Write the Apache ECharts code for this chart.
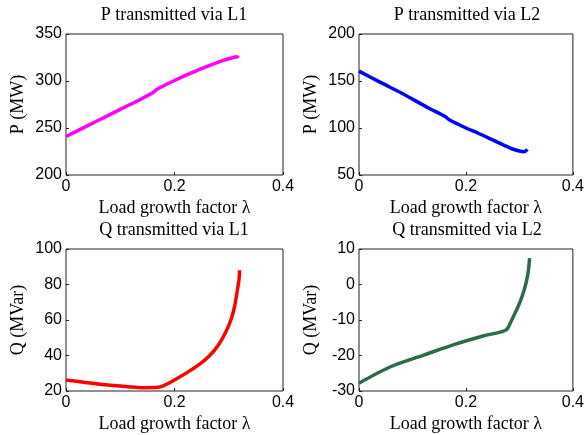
<!DOCTYPE html>
<html>
<head>
<meta charset="utf-8">
<script src="https://cdn.jsdelivr.net/npm/echarts@6/dist/echarts.min.js"></script>
<style>
  html, body { margin: 0; padding: 0; background: #fff; }
  #main { width: 587px; height: 435px; }
</style>
</head>
<body>
<div id="main"></div>
<script>
// values
var lamP1 = [0, 0.04, 0.08, 0.12, 0.136, 0.161, 0.167, 0.2, 0.229, 0.26, 0.29, 0.305, 0.315, 0.318];
var valP1 = [241, 252.5, 264, 275.5, 280, 288, 291, 300.5, 308, 315.5, 322, 324.5, 325.9, 324.5];

var lamP2 = [0, 0.04, 0.08, 0.131, 0.162, 0.168, 0.2, 0.223, 0.255, 0.284, 0.3, 0.309, 0.315];
var valP2 = [160.5, 148.5, 137, 121, 112, 109, 100, 94.4, 86, 78.4, 75.5, 74.8, 77.3];

var lamQ1 = [0, 0.059, 0.1, 0.139, 0.17, 0.2, 0.244, 0.265, 0.281, 0.295, 0.305, 0.311, 0.316, 0.319, 0.32];
var valQ1 = [26.2, 24, 22.8, 21.9, 22.1, 26.2, 34.6, 40, 45.9, 53.5, 61, 68, 77, 83, 88];

var lamQ2 = [0, 0.06, 0.121, 0.176, 0.232, 0.275, 0.284, 0.293, 0.302, 0.309, 0.314, 0.317, 0.319];
var valQ2 = [-27.8, -23.1, -19.9, -17, -14.5, -12.8, -10.5, -7.7, -4.6, -1.5, 1.5, 4.1, 7.4];

var titles = ['P transmitted via L1', 'P transmitted via L2', 'Q transmitted via L1', 'Q transmitted via L2'];
var yNames = ['P (MW)', 'P (MW)', 'Q (MVar)', 'Q (MVar)'];
var yRanges = [[200, 350, 50], [50, 200, 50], [20, 100, 20], [-30, 10, 10]];
var xName = 'Load growth factor \u03bb';
var colors = ['#ff00ff', '#0000ff', '#ff0000', '#2a6b48'];

function pairs(xs, ys) {
    var out = [];
    for (var i = 0; i < xs.length; i++) out.push([xs[i], ys[i]]);
    return out;
}
var allData = [pairs(lamP1, valP1), pairs(lamP2, valP2), pairs(lamQ1, valQ1), pairs(lamQ2, valQ2)];

var lefts = [66, 359, 66, 359];
var tops = [34, 34, 249, 249];
var heights = [141, 141, 142, 142];
var serif = '"Liberation Serif", "Times New Roman", serif';
var sans = '"Liberation Sans", Arial, sans-serif';

var grids = [], xAxes = [], yAxes = [], series = [], titleList = [];
for (var i = 0; i < 4; i++) {
    grids.push({
        left: lefts[i], top: tops[i], width: 217, height: heights[i],
        show: true, borderColor: '#222', borderWidth: 1, backgroundColor: '#fff'
    });
    titleList.push({
        text: titles[i], padding: 0,
        left: lefts[i] + 108, top: tops[i] - 28, textAlign: 'center',
        textStyle: { fontFamily: serif, fontSize: 18, fontWeight: 'normal', color: '#000' }
    });
    xAxes.push({
        gridIndex: i, type: 'value', min: 0, max: 0.4, interval: 0.2,
        name: xName, nameLocation: 'middle', nameGap: 24,
        nameTextStyle: { fontFamily: serif, fontSize: 18, color: '#000' },
        axisLine: { show: false, onZero: false },
        axisTick: { show: true, inside: true, length: 3, lineStyle: { color: '#222' } },
        axisLabel: { fontFamily: sans, fontSize: 16, color: '#000', margin: 4 },
        splitLine: { show: false }
    });
    yAxes.push({
        gridIndex: i, type: 'value', min: yRanges[i][0], max: yRanges[i][1], interval: yRanges[i][2],
        name: yNames[i], nameLocation: 'middle', nameGap: 39,
        nameTextStyle: { fontFamily: serif, fontSize: 18, color: '#000' },
        axisLine: { show: false, onZero: false },
        axisTick: { show: true, inside: true, length: 3, lineStyle: { color: '#222' } },
        axisLabel: { fontFamily: sans, fontSize: 16, color: '#000', margin: 4 },
        splitLine: { show: false }
    });
    series.push({
        type: 'line', xAxisIndex: i, yAxisIndex: i,
        data: allData[i], showSymbol: false, smooth: 0.3,
        lineStyle: { color: colors[i], width: 3.5 },
        itemStyle: { color: colors[i] }
    });
}

var myChart = echarts.init(document.getElementById('main'), null, { renderer: 'canvas' });
myChart.setOption({
    animation: false,
    backgroundColor: '#fff',
    title: titleList,
    grid: grids,
    xAxis: xAxes,
    yAxis: yAxes,
    series: series
});
</script>
</body>
</html>
